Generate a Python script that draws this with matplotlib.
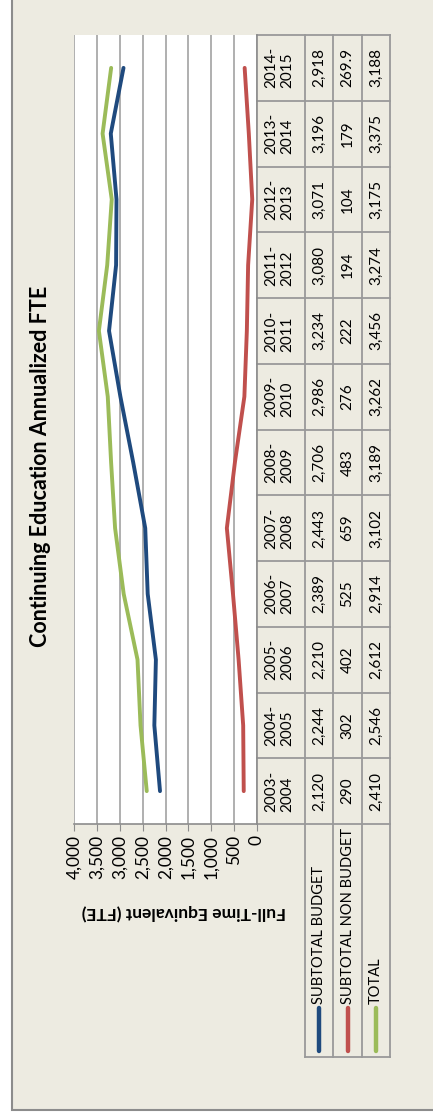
import matplotlib.pyplot as plt
from matplotlib.patches import Rectangle
from matplotlib.lines import Line2D

plt.rcParams['font.family'] = ['Lato', 'DejaVu Sans']

years = ['2003-\n2004', '2004-\n2005', '2005-\n2006', '2006-\n2007', '2007-\n2008', '2008-\n2009',
         '2009-\n2010', '2010-\n2011', '2011-\n2012', '2012-\n2013', '2013-\n2014', '2014-\n2015']
budget = [2120, 2244, 2210, 2389, 2443, 2706, 2986, 3234, 3080, 3071, 3196, 2918]
non_budget = [290, 302, 402, 525, 659, 483, 276, 222, 194, 104, 179, 269.9]
total = [2410, 2546, 2612, 2914, 3102, 3189, 3262, 3456, 3274, 3175, 3375, 3188]
budget_txt = ['2,120', '2,244', '2,210', '2,389', '2,443', '2,706', '2,986', '3,234', '3,080', '3,071', '3,196', '2,918']
non_budget_txt = ['290', '302', '402', '525', '659', '483', '276', '222', '194', '104', '179', '269.9']
total_txt = ['2,410', '2,546', '2,612', '2,914', '3,102', '3,189', '3,262', '3,456', '3,274', '3,175', '3,375', '3,188']
series_names = ['SUBTOTAL BUDGET', 'SUBTOTAL NON BUDGET', 'TOTAL']
colors = ['#1F4A7E', '#C0504D', '#9BBB59']

W, H = 433, 1120
fig = plt.figure(figsize=(W / 100, H / 100), dpi=100)
fig.patch.set_facecolor('white')

# background canvas in pixel coordinates
bg = fig.add_axes([0, 0, 1, 1], zorder=0)
bg.set_xlim(0, W)
bg.set_ylim(H, 0)
bg.axis('off')
bg.add_patch(Rectangle((12, -5), W, 1115, facecolor='#EDEBE1', edgecolor='#8C8C8C', lw=1.5))

# plot area
L, R, T, B = 74, 257, 35, 824
ax = fig.add_axes([L / W, 1 - B / H, (R - L) / W, (B - T) / H], zorder=1)
ax.set_facecolor('white')
idx = list(range(len(years)))
for vals, c in zip([budget, non_budget, total], colors):
    ax.plot(vals, idx, color=c, lw=2.8, solid_capstyle='round', solid_joinstyle='round', zorder=3)

ax.set_xlim(4000, 0)
ax.set_ylim(-0.5, len(years) - 0.5)
ax.set_xticks(range(0, 4001, 500))
ax.set_xticklabels([f'{v:,}' for v in range(0, 4001, 500)], rotation=90, fontsize=12.5)
ax.set_yticks([])
ax.grid(axis='x', color='#9A9A9A', lw=1.1)
ax.tick_params(axis='x', length=5, color='#8C8C8C', pad=3)
for s in ['top', 'left']:
    ax.spines[s].set_visible(False)
for s in ['bottom', 'right']:
    ax.spines[s].set_color('#8C8C8C')
    ax.spines[s].set_linewidth(1.2)


def xa(px):
    return (px - L) / (R - L)


# data table to the right of the plot
cols = [257, 305, 333, 362, 390]
lc = '#999999'
n = len(years)
tr = ax.get_yaxis_transform()
for i in range(n + 1):
    ax.add_line(Line2D([xa(cols[0]), xa(cols[-1])], [i - 0.5, i - 0.5], transform=tr,
                       color=lc, lw=1.3, clip_on=False))
for cx in cols[1:]:
    ax.add_line(Line2D([xa(cx), xa(cx)], [-0.5, n - 0.5], transform=tr,
                       color=lc, lw=1.3, clip_on=False))
for i in idx:
    ax.text(xa(279), i, years[i], transform=tr, rotation=90, ha='center', va='center',
            multialignment='left', fontsize=11, linespacing=1.2, clip_on=False)
    for k, txt in enumerate([budget_txt, non_budget_txt, total_txt]):
        ax.text(xa((cols[k + 1] + cols[k + 2]) / 2), i, txt[i], transform=tr, rotation=90,
                ha='center', va='center', fontsize=11, clip_on=False)

# row headers (legend cells) below the table
for cx in cols[1:]:
    bg.plot([cx, cx], [B, 1057], color=lc, lw=1.3)
bg.plot([cols[1], cols[-1]], [1057, 1057], color=lc, lw=1.3)
for k, (name, c) in enumerate(zip(series_names, colors)):
    cx = (cols[k + 1] + cols[k + 2]) / 2
    bg.plot([cx, cx], [1008, 1051], color=c, lw=3.2, solid_capstyle='round')
    bg.text(cx, 1004, name, rotation=90, ha='center', va='bottom', fontsize=10.5)

# axis title (upside down) and chart title
bg.text(184, 912, 'Full-Time Equivalent (FTE)', rotation=180, ha='center', va='center',
        fontsize=12.5, fontweight='bold')
bg.text(41, 466, 'Continuing Education Annualized FTE', rotation=90, ha='center', va='center',
        fontsize=15.5, fontweight='bold')

fig.savefig('out.png', dpi=100, facecolor=fig.get_facecolor())
